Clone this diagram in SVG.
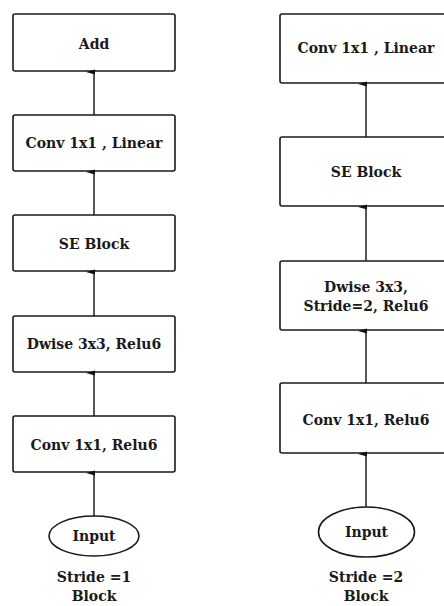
<svg xmlns="http://www.w3.org/2000/svg" width="444" height="606" viewBox="0 0 444 606">
<defs>
<marker id="ah" markerWidth="6" markerHeight="9" refX="3" refY="8" orient="auto-start-reverse" markerUnits="userSpaceOnUse" viewBox="0 0 6 9">
<path d="M0.5,9 L3,0 L5.5,9 Z" fill="#111"/>
</marker>
</defs>
<style>
.box{fill:#fff;stroke:#1a1a1a;stroke-width:1.6}
.t{font-family:"DejaVu Serif","Liberation Serif",serif;font-size:14px;font-weight:bold;fill:#1a1a1a;text-anchor:middle}
.c{stroke:#111;stroke-width:1.4;fill:none}
</style>
<rect width="444" height="606" fill="#fff"/>
<g id="add"><rect class="box" x="13" y="14" width="162" height="57" rx="2"/><text class="t" x="94" y="49">Add</text></g>
<g id="l-conv-linear"><rect class="box" x="13" y="115" width="162" height="56" rx="2"/><text class="t" x="94" y="148">Conv 1x1 , Linear</text></g>
<g id="l-se"><rect class="box" x="13" y="215" width="162" height="56" rx="2"/><text class="t" x="94" y="249">SE Block</text></g>
<g id="l-dwise"><rect class="box" x="13" y="316" width="162" height="56" rx="2"/><text class="t" x="94" y="349">Dwise 3x3, Relu6</text></g>
<g id="l-conv-relu"><rect class="box" x="13" y="416" width="162" height="56" rx="2"/><text class="t" x="94" y="450">Conv 1x1, Relu6</text></g>
<g id="l-input"><ellipse class="box" cx="94" cy="536" rx="45" ry="20"/><text class="t" x="94" y="541">Input</text></g>
<g id="l-label"><text class="t" x="94" y="582">Stride =1</text><text class="t" x="94" y="601">Block</text></g>
<g id="r-conv-linear"><rect class="box" x="280" y="14" width="172" height="69" rx="2"/><text class="t" x="366" y="53">Conv 1x1 , Linear</text></g>
<g id="r-se"><rect class="box" x="280" y="137" width="172" height="69" rx="2"/><text class="t" x="366" y="177">SE Block</text></g>
<g id="r-dwise"><rect class="box" x="280" y="261" width="172" height="69" rx="2"/><text class="t" x="366" y="292">Dwise 3x3,</text><text class="t" x="366" y="311">Stride=2, Relu6</text></g>
<g id="r-conv-relu"><rect class="box" x="280" y="383" width="172" height="70" rx="2"/><text class="t" x="366" y="425">Conv 1x1, Relu6</text></g>
<g id="r-input"><ellipse class="box" cx="366.5" cy="532" rx="48" ry="25"/><text class="t" x="366.5" y="537">Input</text></g>
<g id="r-label"><text class="t" x="366" y="582">Stride =2</text><text class="t" x="366" y="601">Block</text></g>
<g id="connectors">
<line class="c" x1="94" y1="516" x2="94" y2="473" marker-end="url(#ah)"/>
<line class="c" x1="94" y1="416" x2="94" y2="373" marker-end="url(#ah)"/>
<line class="c" x1="94" y1="316" x2="94" y2="272" marker-end="url(#ah)"/>
<line class="c" x1="94" y1="215" x2="94" y2="172" marker-end="url(#ah)"/>
<line class="c" x1="94" y1="115" x2="94" y2="72" marker-end="url(#ah)"/>
<line class="c" x1="366" y1="507" x2="366" y2="454" marker-end="url(#ah)"/>
<line class="c" x1="366" y1="383" x2="366" y2="331" marker-end="url(#ah)"/>
<line class="c" x1="366" y1="261" x2="366" y2="207" marker-end="url(#ah)"/>
<line class="c" x1="366" y1="137" x2="366" y2="84" marker-end="url(#ah)"/>
</g>
</svg>
